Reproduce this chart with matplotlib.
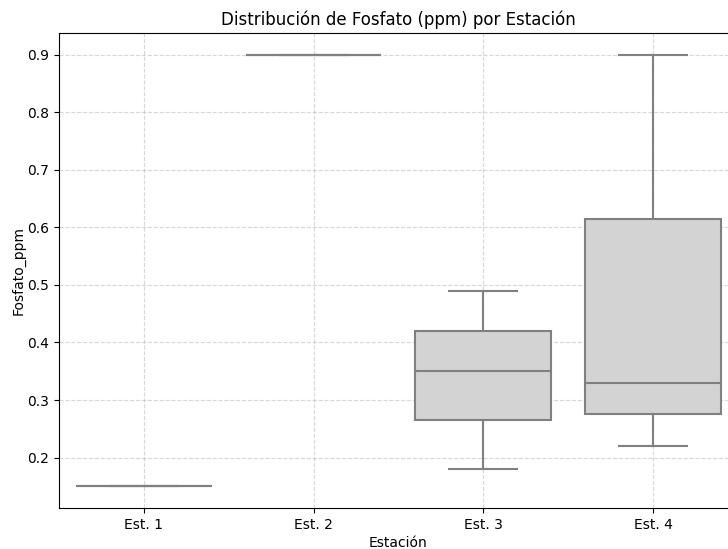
import matplotlib.pyplot as plt

estaciones = ["Est. 1", "Est. 2", "Est. 3", "Est. 4"]
# mediciones de fosfato (ppm) por estación
fosfato_est1 = [0.15, 0.15]
fosfato_est2 = [0.90, 0.90]
fosfato_est3 = [0.18, 0.265, 0.35, 0.42, 0.49]
fosfato_est4 = [0.22, 0.275, 0.33, 0.615, 0.90]

datos = [fosfato_est1, fosfato_est2, fosfato_est3, fosfato_est4]

fig = plt.figure(figsize=(7.28, 5.49), dpi=100)
# el eje se sale un poco por la derecha, como en la imagen original
ax = fig.add_axes([0.081, 0.0747, 0.9327, 0.8653])

linea = dict(color="#808080", linewidth=1.5)
ax.boxplot(datos, positions=range(len(datos)), widths=0.8, patch_artist=True,
           capwidths=0.4,
           boxprops=dict(facecolor="lightgray", edgecolor="#808080", linewidth=1.5),
           medianprops=linea, whiskerprops=linea, capprops=linea,
           flierprops=dict(marker="d", markerfacecolor="#808080", markeredgecolor="#808080"))

ax.set_xlim(-0.5, len(datos) - 0.5)
ax.set_xticks(range(len(datos)))
ax.set_xticklabels(estaciones)
ax.set_ylim(0.1125, 0.9375)
ax.grid(True, linestyle="--", alpha=0.5)
ax.set_axisbelow(True)

ax.set_title("Distribución de Fosfato (ppm) por Estación")
ax.set_xlabel("Estación", labelpad=3)
ax.set_ylabel("Fosfato_ppm", labelpad=1.5)

plt.savefig("out.png", dpi=100)
